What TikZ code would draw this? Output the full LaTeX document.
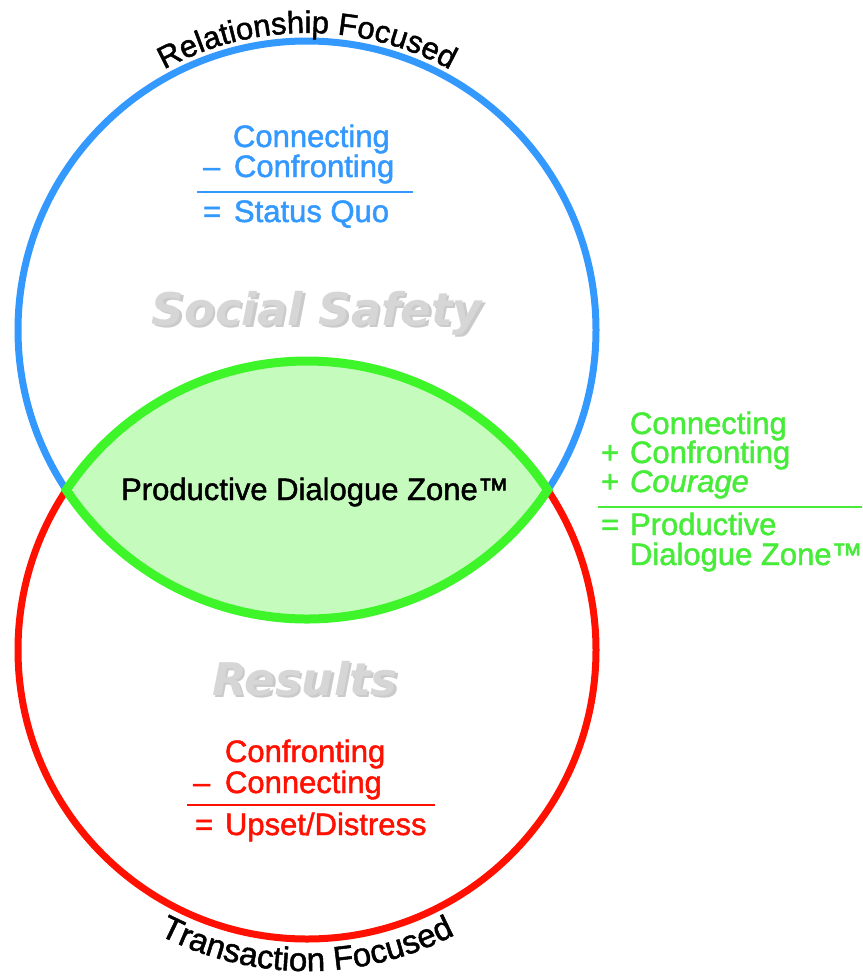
\documentclass[tikz,border=0pt]{standalone}
\usepackage{fontspec}
\setmainfont{Liberation Sans}[FakeBold=1.5]
\newfontfamily\grayfont{DejaVu Sans Bold Oblique}
\usetikzlibrary{decorations.text,calc}

\definecolor{relblue}{RGB}{51,153,255}
\definecolor{resred}{RGB}{255,16,0}
\definecolor{zonegreen}{RGB}{62,245,42}
\definecolor{zonetext}{RGB}{70,236,56}
\definecolor{zonefill}{RGB}{197,252,189}
\definecolor{labelgray}{RGB}{214,214,214}
\definecolor{shadegray}{RGB}{160,160,160}

\newcommand{\bodyfont}{\fontsize{31}{31}\selectfont}
\newcommand{\topfont}{\fontsize{31}{31}\selectfont}
\newcommand{\botfont}{\fontsize{33}{33}\selectfont}
\newcommand{\bigfont}{\fontsize{45}{45}\grayfont}

\tikzset{
  ring/.style={line width=7pt},
  txt/.style={inner sep=0pt, outer sep=0pt, anchor=base west, font=\bodyfont},
  ctxt/.style={inner sep=0pt, outer sep=0pt, anchor=base, font=\bodyfont},
  rule/.style={line width=2.5pt},
  biglabel/.style={inner sep=0pt, anchor=base, font=\bigfont, text=labelgray},
  bigshadow/.style={inner sep=0pt, anchor=base, font=\bigfont, text=shadegray, opacity=0.55},
}

\begin{document}
\begin{tikzpicture}[x=1pt,y=1pt]
  \fill[white] (0,0) rectangle (862,-977);
  \useasboundingbox (0,0) rectangle (862,-977);

  % circle centres and radius
  \coordinate (B) at (307,-330);
  \coordinate (R) at (307,-650);
  \def\rad{289}
  \pgfmathsetmacro{\half}{asin(160/\rad)}

  % the two circles
  \draw[ring, relblue] (B) circle[radius=\rad];
  \draw[ring, resred] (R) circle[radius=\rad];

  % overlap lens
  \coordinate (L) at ($(R)+({180-\half}:\rad)$);
  \draw[line width=9pt, zonegreen, fill=zonefill, line join=miter]
    (L) arc[start angle={180-\half}, end angle={\half}, radius=\rad]
    arc[start angle={-\half}, end angle={-180+\half}, radius=\rad] -- cycle;

  % curved captions
  \path[decorate, decoration={text along path, text align=center,
      text={|\topfont|Relationship Focused}}]
    (B) ++(150:297) arc[start angle=150, end angle=30, radius=297];
  \path[decorate, decoration={text along path, text align=center,
      text={|\botfont|Transaction Focused}}]
    (R) ++(200:321) arc[start angle=200, end angle=340, radius=321];

  % large gray area labels
  \node[bigshadow] (ssshadow) at (319.5,-327.5) {Social Safety};
  \node[biglabel] (social) at (317,-325) {Social Safety};
  \node[bigshadow] (resshadow) at (307.5,-697.5) {Results};
  \node[biglabel] (results) at (305,-695) {Results};

  % zone label
  \node[ctxt] (zone) at (315,-500) {Productive Dialogue Zone™};

  % blue equation
  \begin{scope}[every node/.append style={text=relblue}]
    \node[txt] (b1) at (233,-147) {Connecting};
    \node[txt] (b2s) at (203,-177) {–};
    \node[txt] (b2) at (234,-177) {Confronting};
    \coordinate (bl) at (197,-192);
    \coordinate (br) at (413,-192);
    \draw[rule, relblue] (bl) -- (br);
    \node[txt] (b3s) at (203,-222) {=};
    \node[txt] (b3) at (234,-222) {Status Quo};
  \end{scope}

  % red equation
  \begin{scope}[every node/.append style={text=resred}]
    \node[txt] (r1) at (225,-762) {Confronting};
    \node[txt] (r2s) at (193,-793) {–};
    \node[txt] (r2) at (225,-793) {Connecting};
    \coordinate (rl) at (187,-805);
    \coordinate (rr) at (435,-805);
    \draw[rule, resred] (rl) -- (rr);
    \node[txt] (r3s) at (195,-835) {=};
    \node[txt] (r3) at (225,-835) {Upset/Distress};
  \end{scope}

  % green equation
  \begin{scope}[every node/.append style={text=zonetext}]
    \node[txt] (g1) at (630,-434) {Connecting};
    \node[txt] (g2s) at (601,-463) {+};
    \node[txt] (g2) at (630,-463) {Confronting};
    \node[txt] (g3s) at (601,-492) {+};
    \node[txt] (g3) at (630,-492) {\itshape Courage};
    \coordinate (gl) at (598,-507);
    \coordinate (gr) at (862,-507);
    \draw[rule, zonetext] (gl) -- (gr);
    \node[txt] (g4s) at (601,-535) {=};
    \node[txt] (g4) at (630,-535) {Productive};
    \node[txt] (g5) at (630,-565) {Dialogue Zone™};
  \end{scope}
\end{tikzpicture}
\end{document}
